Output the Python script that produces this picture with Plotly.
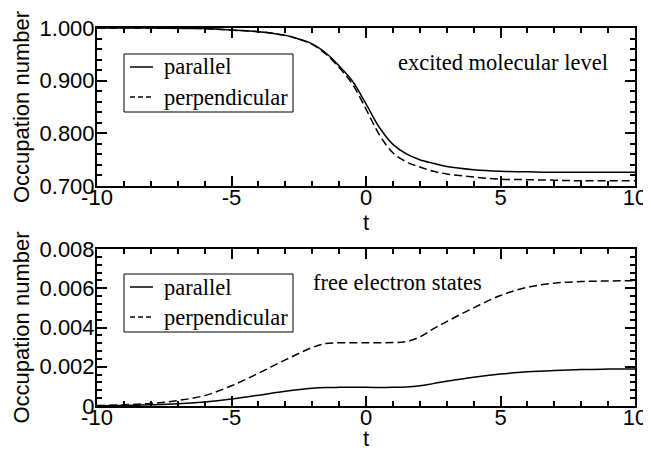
import plotly.graph_objects as go

# ---- data ----
t_top = [-10, -8, -6, -5, -4, -3, -2.5, -2, -1.5, -1, -0.5, 0, 0.5, 1, 1.5, 2, 2.5, 3, 4, 5, 6, 7, 8, 10]
par_top = [1.000, 0.9998, 0.999, 0.996, 0.993, 0.986, 0.979, 0.970, 0.953, 0.928, 0.899, 0.856, 0.811,
           0.779, 0.761, 0.750, 0.743, 0.737, 0.731, 0.728, 0.727, 0.726, 0.726, 0.726]
perp_top = [1.000, 0.9998, 0.999, 0.996, 0.993, 0.986, 0.979, 0.969, 0.951, 0.925, 0.893, 0.846, 0.797,
            0.763, 0.746, 0.736, 0.728, 0.723, 0.717, 0.713, 0.712, 0.711, 0.710, 0.710]

t_bot = [-10, -9, -8, -7, -6, -5, -4, -3, -2, -1.5, -1, 0, 1, 1.5, 2, 2.5, 3, 4, 5, 6, 7, 8, 9, 10]
par_bot = [0.00001, 0.00003, 0.00006, 0.00011, 0.00021, 0.00036, 0.00055, 0.00075, 0.00090, 0.00094,
           0.00095, 0.00095, 0.00095, 0.00097, 0.00103, 0.00114, 0.00126, 0.00147, 0.00163, 0.00174,
           0.00181, 0.00186, 0.00188, 0.00189]
perp_bot = [0.00002, 0.00006, 0.00013, 0.00028, 0.00053, 0.00103, 0.00167, 0.00235, 0.00298, 0.00318,
            0.00322, 0.00322, 0.00323, 0.00328, 0.00352, 0.00393, 0.00430, 0.00500, 0.00563, 0.00605,
            0.00626, 0.00634, 0.00637, 0.00639]

series_names = ["parallel", "perpendicular"]
x_ticks = [-10, -5, 0, 5, 10]
x_ticklabels = ["-10", "-5", "0", "5", "10"]
top_yticks = [0.7, 0.8, 0.9, 1.0]
top_yticklabels = ["0.700", "0.800", "0.900", "1.000"]
bot_yticks = [0, 0.002, 0.004, 0.006, 0.008]
bot_yticklabels = ["0", "0.002", "0.004", "0.006", "0.008"]
y_title = "Occupation number"
x_title = "t"
top_note = "excited molecular level"
bot_note = "free electron states"

SANS = "Liberation Sans, Arial, sans-serif"
SERIF = "Liberation Serif, Times New Roman, serif"
DASH = "8px,4px"

# page is rendered with an 8px body margin; compensate so the plot lands where the reference has it
OFF = 8
W, H = 651 - OFF, 451 - OFF
PL, PR, PT, PB = 97, 635, 28, 406          # plot-area edges in window pixels
ML, MR, MT, MB = PL - OFF, 651 - PR, PT - OFF, 451 - PB
PW, PH = PR - PL, PB - PT


def px(x):  # window pixel -> paper x
    return (x - PL) / PW


def py(y):  # window pixel -> paper y
    return (PB - y) / PH


fig = go.Figure()
styles = [dict(color="black", width=1.5, shape="spline"),
          dict(color="black", width=1.5, dash=DASH, shape="spline")]
fig.add_trace(go.Scatter(x=t_top, y=par_top, name=series_names[0], mode="lines", line=styles[0],
                         xaxis="x", yaxis="y", showlegend=False))
fig.add_trace(go.Scatter(x=t_top, y=perp_top, name=series_names[1], mode="lines", line=styles[1],
                         xaxis="x", yaxis="y", showlegend=False))
fig.add_trace(go.Scatter(x=t_bot, y=par_bot, name=series_names[0], mode="lines", line=styles[0],
                         xaxis="x2", yaxis="y2", showlegend=False))
fig.add_trace(go.Scatter(x=t_bot, y=perp_bot, name=series_names[1], mode="lines", line=styles[1],
                         xaxis="x2", yaxis="y2", showlegend=False))


def xaxis(anchor):
    return dict(range=[-10, 10], anchor=anchor, domain=[0, 1], automargin=False,
                tickvals=x_ticks, ticktext=x_ticklabels, ticklabeloverflow="allow",
                ticks="inside", ticklen=10, tickwidth=1.5, tickcolor="black",
                ticklabelstandoff=-9,
                minor=dict(ticks="inside", ticklen=5, dtick=1, tickwidth=1.5, tickcolor="black"),
                showline=True, linewidth=2, linecolor="black", mirror="allticks",
                showgrid=False, zeroline=False,
                tickfont=dict(family=SANS, size=22, color="black"),
                title=dict(text=x_title, font=dict(family=SANS, size=22, color="black"), standoff=0))


def yaxis(anchor, rng, tv, tt, minor_dtick, domain):
    return dict(range=rng, anchor=anchor, domain=domain, automargin=False,
                tickvals=tv, ticktext=tt, ticklabeloverflow="allow",
                ticks="inside", ticklen=10, tickwidth=1.5, tickcolor="black",
                ticklabelstandoff=-4,
                minor=dict(ticks="inside", ticklen=5, dtick=minor_dtick, tickwidth=1.5, tickcolor="black"),
                showline=True, linewidth=2, linecolor="black", mirror="allticks",
                showgrid=False, zeroline=False,
                tickfont=dict(family=SANS, size=22, color="black"),
                title=dict(text=y_title, font=dict(family=SANS, size=22, color="black"), standoff=4))


# hand-drawn legends (box, sample lines, labels) positioned in window pixels
shapes = []
annotations = []
for (box_top, box_bot, row1, row2) in [(54, 112, 67, 97), (274, 332, 287, 317)]:
    shapes.append(dict(type="rect", xref="paper", yref="paper",
                       x0=px(124), x1=px(293), y0=py(box_bot), y1=py(box_top),
                       line=dict(color="black", width=1), fillcolor="white", layer="above"))
    shapes.append(dict(type="line", xref="paper", yref="paper",
                       x0=px(130), x1=px(153), y0=py(row1), y1=py(row1),
                       line=dict(color="black", width=1.5), layer="above"))
    shapes.append(dict(type="line", xref="paper", yref="paper",
                       x0=px(130), x1=px(153), y0=py(row2), y1=py(row2),
                       line=dict(color="black", width=1.5, dash="5px,3px"), layer="above"))
    for name, row in zip(series_names, [row1, row2]):
        annotations.append(dict(text=name, x=px(162), y=py(row), xref="paper", yref="paper",
                                xanchor="left", yanchor="middle", showarrow=False,
                                font=dict(family=SERIF, size=22.5, color="black")))

annotations.append(dict(text=top_note, x=px(503), y=py(63), xref="paper", yref="paper",
                        xanchor="center", yanchor="middle", showarrow=False,
                        font=dict(family=SERIF, size=22.5, color="black")))
annotations.append(dict(text=bot_note, x=px(397), y=py(282), xref="paper", yref="paper",
                        xanchor="center", yanchor="middle", showarrow=False,
                        font=dict(family=SERIF, size=22.5, color="black")))

fig.update_layout(
    width=W, height=H,
    margin=dict(l=ML, r=MR, t=MT, b=MB, autoexpand=False),
    paper_bgcolor="white", plot_bgcolor="white",
    showlegend=False,
    xaxis=xaxis("y"),
    yaxis=yaxis("x", [0.7, 1.0], top_yticks, top_yticklabels, 0.02, [py(186), 1.0]),
    xaxis2=xaxis("y2"),
    yaxis2=yaxis("x2", [0, 0.008], bot_yticks, bot_yticklabels, 0.0004, [0.0, py(249)]),
    shapes=shapes,
    annotations=annotations,
)

fig.write_html("out.html")
